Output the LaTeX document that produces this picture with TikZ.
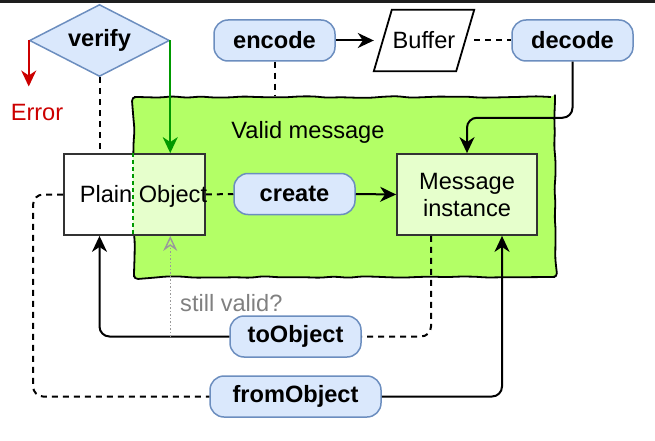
\documentclass[tikz,border=0pt]{standalone}
\usepackage{fontspec}
\setmainfont{Liberation Sans}
\usetikzlibrary{arrows.meta, shapes.geometric, decorations.pathmorphing, calc}

\definecolor{blueFill}{HTML}{DAE8FC}
\definecolor{blueLine}{HTML}{6C8EBF}
\definecolor{validGreen}{HTML}{B3FF66}
\definecolor{paleGreen}{HTML}{E6FFCC}
\definecolor{okGreen}{HTML}{009900}
\definecolor{errRed}{HTML}{CC0000}
\definecolor{hintGray}{HTML}{999999}
\definecolor{hintText}{HTML}{808080}
\definecolor{boxLine}{HTML}{333333}
\definecolor{barDark}{HTML}{1E1E1E}

\tikzset{
  op/.style={draw=blueLine, fill=blueFill, line width=1.5pt, rounded corners=14pt,
    minimum height=41pt, inner sep=0pt, font=\fontsize{23.6}{27}\bfseries},
  box/.style={draw=boxLine, line width=1.8pt, minimum height=81pt, inner sep=0pt},
  link/.style={line width=2pt, rounded corners=10pt, -{Stealth[length=16pt, width=15pt, inset=5pt]}},
  dashlink/.style={line width=2pt, rounded corners=10pt, dash pattern=on 6pt off 5pt},
}

\begin{document}
\begin{tikzpicture}[x=1pt, y=-1pt, font=\fontsize{23.6}{27}\selectfont]
                \useasboundingbox (0,0) rectangle (655,441);
                \fill[barDark] (0,0) rectangle (655,3.5);

                % valid message area
                \node[draw=black, fill=validGreen, line width=1.8pt, minimum width=421pt, minimum height=180pt,
                  decorate, decoration={random steps, segment length=14pt, amplitude=0.9pt}, rounded corners=4pt] (valid) at (344.5,187) {};
                \node (validLbl) at (308,132) {Valid message};

                \node[box, fill=white, minimum width=141pt,
                  path picture={\fill[paleGreen] (valid.west |- path picture bounding box.north)
                    rectangle (path picture bounding box.south east);}] (plain) at (134.5,194.5) {};
                \draw[okGreen, line width=1.3pt, dash pattern=on 4pt off 3pt]
                  (valid.west |- plain.north) -- (valid.west |- plain.south);
                \node (plainLbl) at (143.5,196) {Plain Object};

                \node[box, fill=paleGreen, minimum width=140pt, align=center] (msg) at (467,194.5) {Message\\instance};

                \node[diamond, aspect=2, draw=blueLine, fill=blueFill, line width=1.5pt, inner sep=0pt,
                  minimum width=140pt, minimum height=72pt, font=\fontsize{23.6}{27}\bfseries] (verify) at (99.5,40.5) {verify};
                \node[text=errRed] (error) at (37,112) {Error};

                \node[op, minimum width=121pt] (encode) at (274.5,40.5) {encode};
                \node[minimum width=100pt, minimum height=61pt, inner sep=0pt] (buffer) at (424,40.5) {Buffer};
                \draw[line width=1.8pt] ($(buffer.north west)+(18,0)$) -- (buffer.north east)
                  -- ($(buffer.south east)+(-18,0)$) -- (buffer.south west) -- cycle;
                \node[op, minimum width=121pt] (decode) at (572.5,40.5) {decode};

                \node[op, minimum width=121pt] (create) at (294.5,194) {create};
                \node[op, minimum width=131pt] (toObj) at (295.5,336.5) {toObject};
                \node[op, minimum width=171pt] (fromObj) at (295.5,396.5) {fromObject};
                \node[text=hintText, anchor=west, inner sep=0pt] (hint) at (180,303) {still valid?};

                % connectors
                \draw[link, errRed] (verify.west) -- ++(0,46);
                \draw[link, okGreen] (verify.east) -- (verify.east |- plain.north);
                \draw[dashlink] (verify.south) -- (verify.south |- plain.north);
                \draw[link] (encode.east) -- (buffer.west);
                \draw[dashlink] (buffer.east) -- (decode.west);
                \draw[dashlink] (encode.south) -- (encode.south |- valid.north);
                \draw[link] (decode.south) -- ++(0,56) -| (msg.north);
                \draw[dashlink] (plain.east) -- (create.west);
                \draw[link] (create.east) -- (msg.west);
                \draw[dashlink] ($(msg.south)+(-36,0)$) |- (toObj.east);
                \draw[link] (toObj.west) -| (verify.south |- plain.south);
                \draw[hintGray, line width=1.4pt, dash pattern=on 1.5pt off 2pt, -{Stealth[open, length=15pt, width=14pt, inset=5pt]}]
                  (verify.east |- toObj.west) -- (verify.east |- plain.south);
                \draw[link] (fromObj.east) -| ($(msg.south)+(35,0)$);
                \draw[dashlink] (plain.west) -- ++(-30,0) |- (fromObj.west);
            \end{tikzpicture}
\end{document}
